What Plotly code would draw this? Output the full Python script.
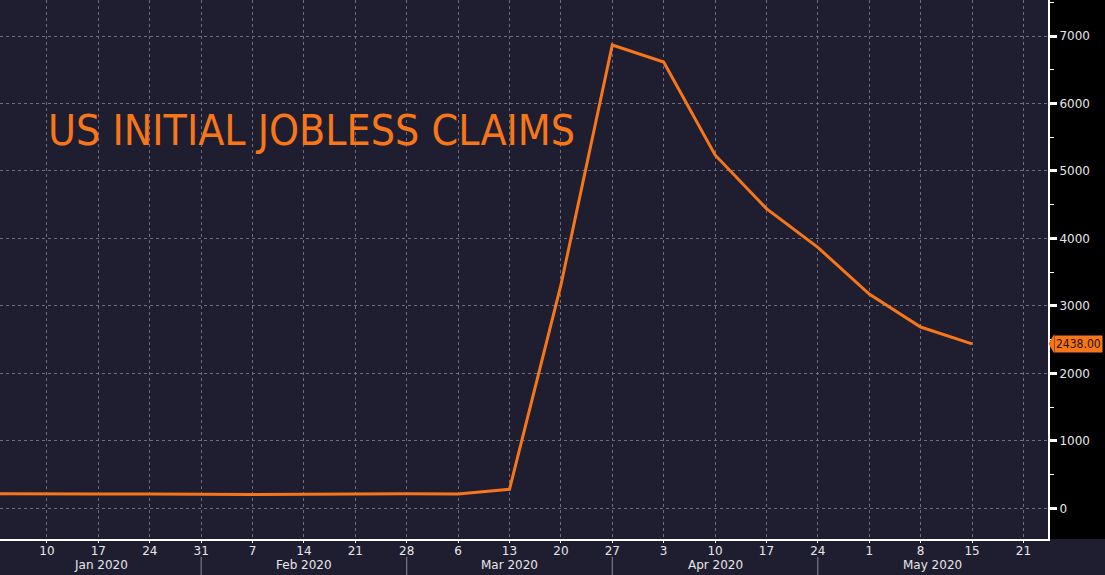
import plotly.graph_objects as go
import pandas as pd

# ---- data ----
week_dates = ["2020-01-03", "2020-01-10", "2020-01-17", "2020-01-24", "2020-01-31",
              "2020-02-07", "2020-02-14", "2020-02-21", "2020-02-28", "2020-03-06",
              "2020-03-13", "2020-03-20", "2020-03-27", "2020-04-03", "2020-04-10",
              "2020-04-17", "2020-04-24", "2020-05-01", "2020-05-08", "2020-05-15"]
claims = [214, 207, 211, 212, 202, 203, 210, 216, 217, 211,
          282, 3307, 6867, 6615, 5237, 4442, 3867, 3176, 2687, 2438]

tick_dates = ["2020-01-10", "2020-01-17", "2020-01-24", "2020-01-31", "2020-02-07",
              "2020-02-14", "2020-02-21", "2020-02-28", "2020-03-06", "2020-03-13",
              "2020-03-20", "2020-03-27", "2020-04-03", "2020-04-10", "2020-04-17",
              "2020-04-24", "2020-05-01", "2020-05-08", "2020-05-15", "2020-05-22"]
tick_labels = ["10", "17", "24", "31", "7", "14", "21", "28", "6", "13",
               "20", "27", "3", "10", "17", "24", "1", "8", "15", "21"]

month_labels = ["Jan 2020", "Feb 2020", "Mar 2020", "Apr 2020", "May 2020"]
month_breaks = ["2020-01-31", "2020-02-28", "2020-03-27", "2020-04-24"]

y_ticks = [0, 1000, 2000, 3000, 4000, 5000, 6000, 7000]
title_text = "US INITIAL JOBLESS CLAIMS"
last_label = "2438.00"

# ---- styling ----
NAVY = "#1f1e30"
ORANGE = "#f7761a"
GRID = "#6c6c80"
TXT = "#e6e6ea"

x_range = ["2020-01-03 14:24", "2020-05-25 08:24"]
y_range = [-455, 7534]

fig = go.Figure()
fig.add_trace(go.Scatter(
    x=pd.to_datetime(week_dates), y=claims, mode="lines",
    line=dict(color=ORANGE, width=3), hoverinfo="skip", showlegend=False))

# black right margin behind y tick labels
fig.add_shape(type="rect", xref="paper", yref="paper", x0=1, x1=1.07, y0=0, y1=1,
              fillcolor="#000000", line_width=0, layer="below")

# month separators and labels
edges = [pd.Timestamp(x_range[0])] + [pd.Timestamp(d) for d in month_breaks] + [pd.Timestamp(x_range[1])]
for d in month_breaks:
    fig.add_shape(type="line", xref="x", yref="paper", x0=d, x1=d, y0=-0.033, y1=-0.07,
                  line=dict(color="#8a8a98", width=1))
for i, lab in enumerate(month_labels):
    mid = edges[i] + (edges[i + 1] - edges[i]) / 2
    fig.add_annotation(x=mid, xref="x", y=-0.049, yref="paper", text=lab, showarrow=False,
                       font=dict(family="DejaVu Sans", size=12, color=TXT),
                       xanchor="center", yanchor="middle")

# title
fig.add_annotation(x=0.044, xref="paper", y=0.757, yref="paper", text=title_text,
                   showarrow=False, xanchor="left", yanchor="middle",
                   font=dict(family="DejaVu Sans Condensed, Liberation Sans Narrow, sans-serif",
                             size=42.5, color=ORANGE))

# last value label
fig.add_annotation(x=1.0055, xref="paper", y=claims[-1], yref="y", text=last_label,
                   showarrow=False, xanchor="left", yanchor="middle",
                   bgcolor=ORANGE, borderpad=1,
                   font=dict(family="DejaVu Sans Condensed, DejaVu Sans", size=12, color="#2a1200"))
fig.add_shape(type="path", xref="paper", yref="y",
              path=f"M 1.006 {claims[-1]-145} L 1.0005 {claims[-1]} L 1.006 {claims[-1]+145} Z",
              fillcolor=ORANGE, line_width=0)

fig.update_layout(
    width=1105, height=575,
    margin=dict(l=0, r=57, t=0, b=36),
    paper_bgcolor=NAVY, plot_bgcolor=NAVY,
    hovermode=False,
    xaxis=dict(type="date", range=x_range, tickvals=pd.to_datetime(tick_dates), ticktext=tick_labels,
               showgrid=True, gridcolor=GRID, griddash="3px,3px", gridwidth=1,
               showline=True, linecolor="#ffffff", linewidth=2,
               ticks="outside", ticklen=2, tickcolor="#ffffff", ticklabelstandoff=-2,
               tickfont=dict(family="DejaVu Sans", size=12, color=TXT),
               zeroline=False, fixedrange=True),
    yaxis=dict(side="right", range=y_range, tickvals=y_ticks, tickformat="d",
               showgrid=True, gridcolor=GRID, griddash="3px,3px", gridwidth=1,
               showline=True, linecolor="#ffffff", linewidth=2,
               ticks="outside", ticklen=7, tickwidth=3, tickcolor="#ffffff",
               minor=dict(dtick=500, tick0=0, ticks="outside", ticklen=4, tickwidth=1,
                          tickcolor="#ffffff", showgrid=False),
               tickfont=dict(family="DejaVu Sans", size=12, color=TXT),
               zeroline=False, fixedrange=True),
)

fig.write_html("out.html", config={"displayModeBar": False},
               post_script="document.body.style.margin='0';document.body.style.background='" + NAVY + "';")
